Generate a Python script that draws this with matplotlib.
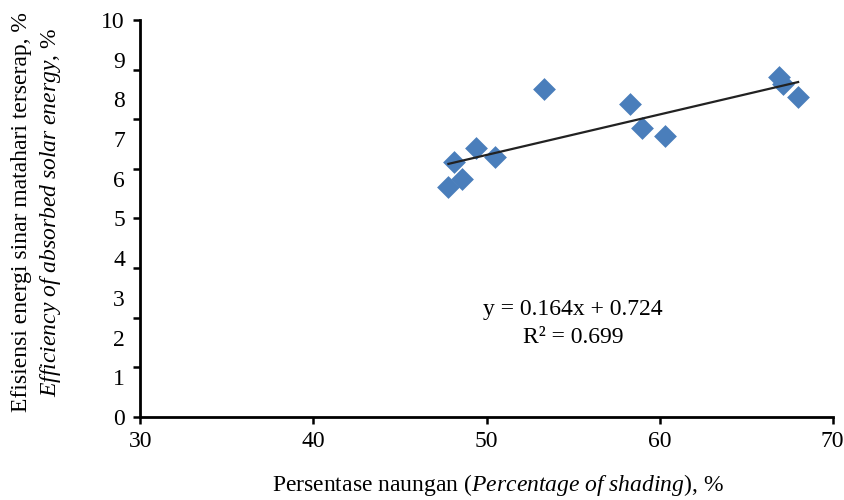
import numpy as np
import matplotlib.pyplot as plt

plt.rcParams['font.family'] = ['Liberation Serif', 'DejaVu Serif']
plt.rcParams['mathtext.fontset'] = 'custom'
plt.rcParams['mathtext.rm'] = 'Liberation Serif'
plt.rcParams['mathtext.it'] = 'Liberation Serif:italic'

# data
shading = [47.8, 48.6, 48.1, 49.4, 50.5, 53.3, 58.3, 59.0, 60.3, 66.9, 67.1, 68.0]
efficiency = [5.80, 5.99, 6.43, 6.78, 6.56, 8.26, 7.88, 7.27, 7.08, 8.57, 8.40, 8.07]
x_ticks = [30, 40, 50, 60, 70]
y_labels = [0, 1, 2, 3, 4, 5, 6, 7, 8, 9, 10]
equation = 'y = 0.164x + 0.724'
r_squared = 'R² = 0.699'

FS = 17


def main():
    fig = plt.figure(figsize=(8.45, 5), dpi=100)
    ax = fig.add_axes([0.166, 0.166, 0.8195, 0.794])

    ax.scatter(shading, efficiency, marker='D', s=135, color='#4a7ebb', zorder=3, linewidths=0)

    # linear trend line
    coef = np.polyfit(shading, efficiency, 1)
    xs = np.array([min(shading), max(shading)])
    ax.plot(xs, np.polyval(coef, xs), color='#222222', lw=1.6, zorder=4)

    ax.text(55.0, 2.72, equation, fontsize=FS, ha='center', va='center')
    ax.text(55.0, 1.99, r_squared, fontsize=FS, ha='center', va='center')

    ax.set_xlim(30, 70)
    ax.set_ylim(0, 10)
    ax.set_xticks(x_ticks)
    ax.set_xticklabels([str(t) for t in x_ticks], fontsize=FS)
    # tick marks every 1.25, labels at integers
    ax.yaxis.remove_overlapping_locs = False
    ax.set_yticks(np.linspace(0, 10, 9))
    ax.set_yticklabels([])
    ax.set_yticks(y_labels, minor=True)
    ax.set_yticklabels([str(t) for t in y_labels], minor=True, fontsize=FS)
    ax.tick_params(axis='y', which='minor', length=0, pad=11)
    ax.tick_params(axis='both', which='major', length=5, width=1.8, direction='out')
    ax.tick_params(axis='x', pad=5)

    for side in ['top', 'right']:
        ax.spines[side].set_visible(False)
    for side in ['left', 'bottom']:
        ax.spines[side].set_linewidth(2)

    fig.text(0.589, 0.03, r'Persentase naungan ($\mathit{Percentage\ of\ shading}$), %',
             fontsize=FS, ha='center', va='center')
    fig.text(0.026, 0.576, 'Efisiensi energi sinar matahari terserap, %',
             fontsize=FS, ha='center', va='center', rotation=90)
    fig.text(0.06, 0.576, r'$\mathit{Efficiency\ of\ absorbed\ solar\ energy}$, %',
             fontsize=FS, ha='center', va='center', rotation=90)

    fig.savefig('out.png', dpi=100)


if __name__ == "__main__":
    main()
